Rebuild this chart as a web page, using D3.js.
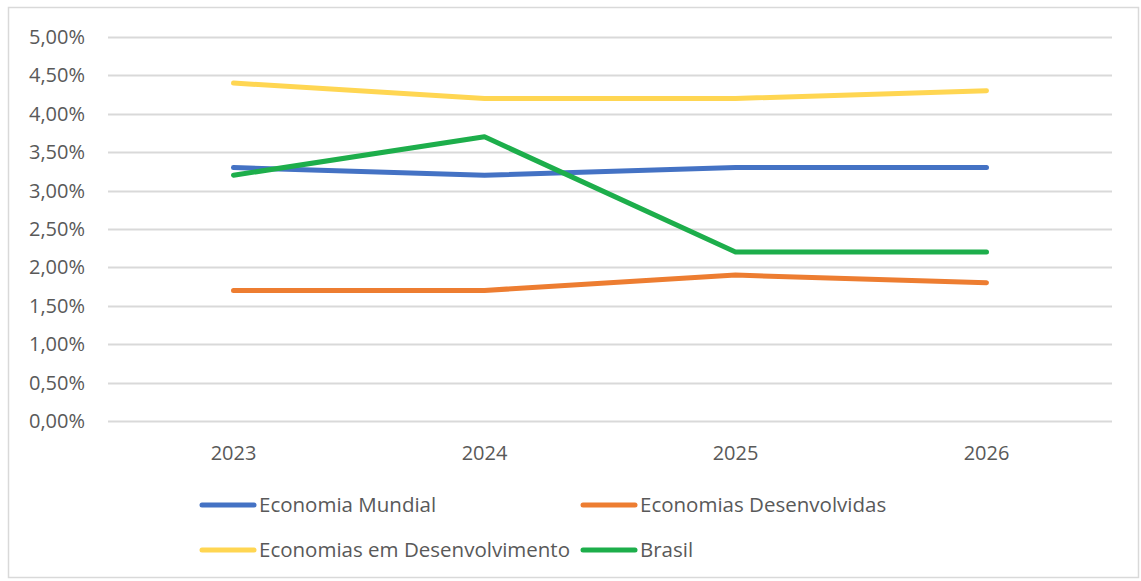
<!DOCTYPE html>
<html><head><meta charset="utf-8">
<script src="https://cdn.jsdelivr.net/npm/d3@7"></script>
<style>body{margin:0;background:#fff;} text{font-family:"Open Sans","Noto Sans",sans-serif;fill:#595959;}</style>
</head><body>
<svg id="c" width="1141" height="581"></svg>
<script>
const years = ["2023","2024","2025","2026"];
const seriesNames = ["Economia Mundial","Economias Desenvolvidas","Economias em Desenvolvimento","Brasil"];
const economiaMundial = [3.3,3.2,3.3,3.3];
const economiasDesenvolvidas = [1.7,1.7,1.9,1.8];
const economiasEmDesenvolvimento = [4.4,4.2,4.2,4.3];
const brasil = [3.2,3.7,2.2,2.2];
const yTicks = [0,0.5,1,1.5,2,2.5,3,3.5,4,4.5,5];
const colors = ["#4472C4","#ED7D31","#FFD652","#1DAE4B"];
const seriesValues = [economiaMundial, economiasDesenvolvidas, economiasEmDesenvolvimento, brasil];

const svg = d3.select("#c");
svg.append("rect").attr("x",8.5).attr("y",7.5).attr("width",1130).attr("height",570)
  .attr("fill","#fff").attr("stroke","#d9d9d9").attr("stroke-width",1.5);

const x = d3.scaleBand().domain(years).range([108,1112]);
const y = d3.scaleLinear().domain([0,5]).range([421,37]);

const g = svg.append("g");
g.selectAll("line.grid").data(yTicks).join("line")
  .attr("x1",108).attr("x2",1112).attr("y1",d=>Math.round(y(d))+0.5).attr("y2",d=>Math.round(y(d))+0.5)
  .attr("stroke","#d9d9d9").attr("stroke-width",2);
g.selectAll("text.yt").data(yTicks).join("text")
  .attr("x",85).attr("y",d=>y(d)).attr("dy","0.35em").attr("text-anchor","end")
  .attr("font-size",20).text(d=>d3.format(".2f")(d).replace(".",",")+"%");
g.selectAll("text.xt").data(years).join("text")
  .attr("x",d=>x(d)+x.bandwidth()/2).attr("y",453).attr("dy","0.35em").attr("text-anchor","middle")
  .attr("font-size",20).text(d=>d);

const line = d3.line().x((d,i)=>x(years[i])+x.bandwidth()/2).y(d=>y(d));
seriesValues.forEach((vals,i)=>{
  svg.append("path").datum(vals).attr("d",line).attr("fill","none")
    .attr("stroke",colors[i]).attr("stroke-width",5).attr("stroke-linecap","round").attr("stroke-linejoin","round");
});

const legendPos = [[200,505],[581,505],[200,550],[581,550]];
seriesNames.forEach((n,i)=>{
  const [lx,ly] = legendPos[i];
  svg.append("line").attr("x1",lx+2).attr("x2",lx+54).attr("y1",ly).attr("y2",ly)
    .attr("stroke",colors[i]).attr("stroke-width",5).attr("stroke-linecap","round");
  svg.append("text").attr("x",lx+59).attr("y",ly).attr("dy","0.35em").attr("font-size",20.5).text(n);
});
</script>
</body></html>
